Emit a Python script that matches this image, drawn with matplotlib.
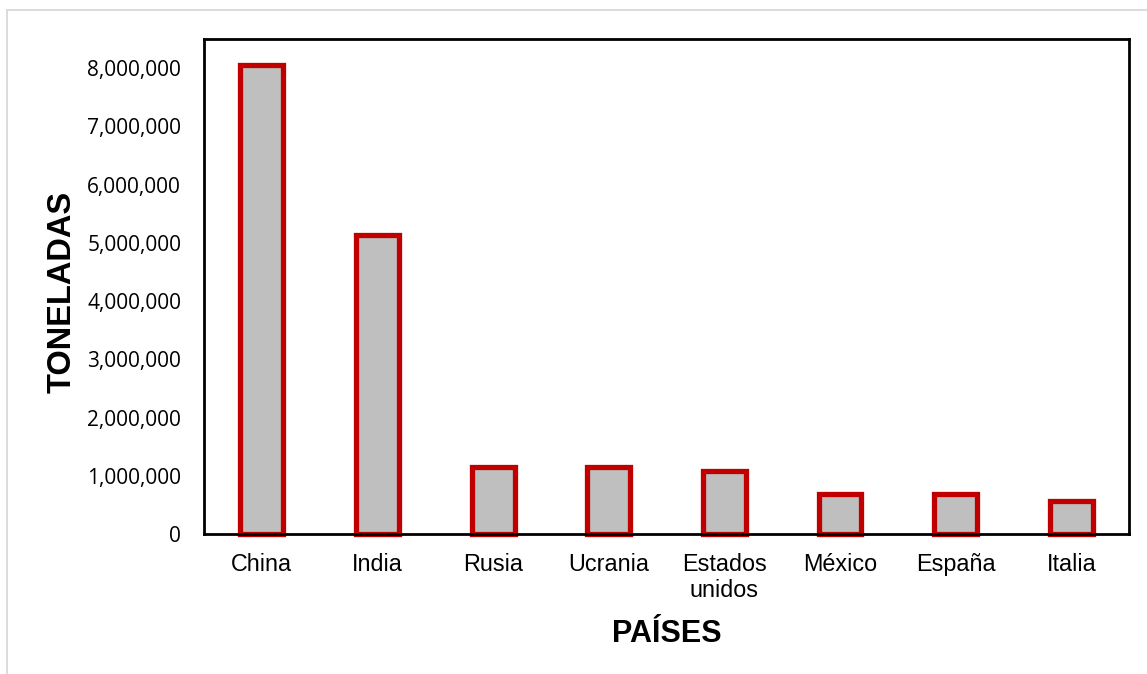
import matplotlib.pyplot as plt
import matplotlib.patches as patches
from matplotlib.ticker import FuncFormatter
from matplotlib.transforms import ScaledTranslation

paises = ['China', 'India', 'Rusia', 'Ucrania', 'Estados\nunidos', 'México', 'España', 'Italia']
toneladas = [8050000, 5130000, 1150000, 1150000, 1080000, 690000, 680000, 570000]
y_ticks = [0, 1000000, 2000000, 3000000, 4000000, 5000000, 6000000, 7000000, 8000000]

fig = plt.figure(figsize=(11.47, 6.74), dpi=100)
ax = fig.add_axes([0.1779, 0.2077, 0.8065, 0.7344])

# borde gris del área del gráfico
fig.patches.append(patches.Rectangle((7 / 1147, -0.1), 2, 1 - 10 / 674 + 0.1,
                                     transform=fig.transFigure, fill=False,
                                     edgecolor='#D9D9D9', linewidth=1.3, clip_on=False))

x = range(len(paises))
ax.bar(x, toneladas, width=0.37, color='#BFBFBF', edgecolor='#C00000',
       linewidth=3.8, clip_on=False, zorder=2)

ax.set_xlim(-0.5, len(paises) - 0.5)
ax.set_ylim(0, 8500000)
ax.set_yticks(y_ticks)
ax.yaxis.set_major_formatter(FuncFormatter(lambda v, p: f'{int(v):,}'))
ax.set_xticks(list(x))
ax.set_xticklabels(paises, fontsize=16.8, fontfamily='Liberation Sans', linespacing=1.12)
for lbl in ax.get_yticklabels():
    lbl.set_fontfamily('Open Sans')
    lbl.set_fontsize(15)

ax.tick_params(axis='x', length=0, pad=14)
ax.tick_params(axis='y', length=0, pad=16.5)

# el acento de la É empuja la etiqueta hacia abajo; se sube para alinear
for lbl in ax.get_xticklabels():
    if 'É' in lbl.get_text():
        lbl.set_transform(lbl.get_transform() + ScaledTranslation(0, 3 / 72, fig.dpi_scale_trans))

for s in ax.spines.values():
    s.set_linewidth(2.0)
    s.set_color('black')
    s.set_zorder(3)

ax.set_ylabel('TONELADAS', fontsize=23.5, fontweight='bold', fontfamily='Liberation Sans')
ax.yaxis.set_label_coords(-0.137, 0.49)
ax.set_xlabel('PAÍSES', fontsize=22, fontweight='bold', fontfamily='Liberation Sans')
ax.xaxis.label.set_va('baseline')
ax.xaxis.set_label_coords(0.5, -0.218)

plt.savefig('out.png', dpi=100)
plt.close()
